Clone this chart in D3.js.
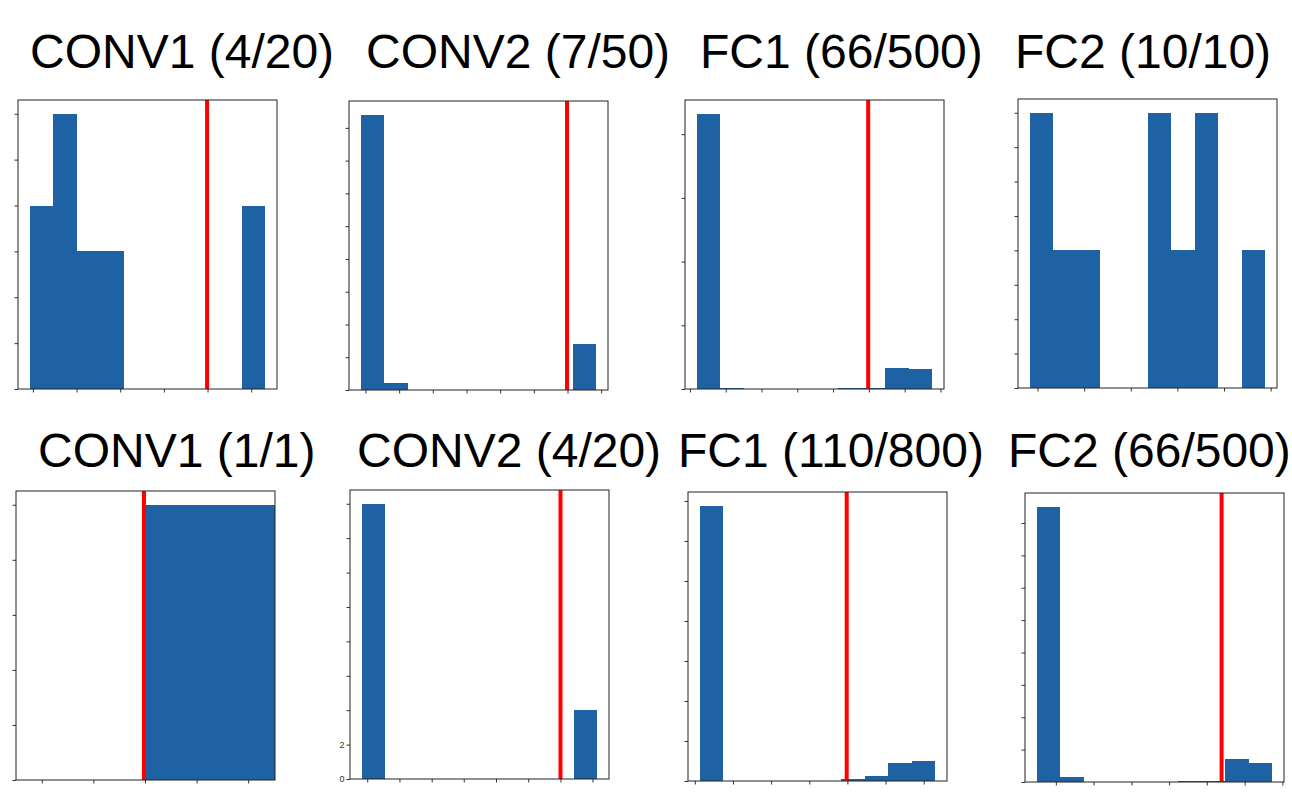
<!DOCTYPE html>
<html>
<head>
<meta charset="utf-8">
<script src="https://cdn.jsdelivr.net/npm/d3@7"></script>
<style>
  html, body { margin: 0; padding: 0; background: #fff; }
  svg { display: block; }
</style>
</head>
<body>
<script>
// ---------------- DATA ----------------
const titles = [
  "CONV1 (4/20)", "CONV2 (7/50)", "FC1 (66/500)", "FC2 (10/10)",
  "CONV1 (1/1)", "CONV2 (4/20)", "FC1 (110/800)", "FC2 (66/500)"
];

// histogram counts per panel (10 bins each, one wide bin for CONV1 (1/1))
const counts = [
  [4, 6, 3, 3, 0, 0, 0, 0, 0, 4],
  [42, 1, 0, 0, 0, 0, 0, 0, 0, 7],
  [432, 1, 0, 0, 0, 0, 1, 1, 33, 32],
  [2, 1, 1, 0, 0, 2, 1, 2, 0, 1],
  [1],
  [16, 0, 0, 0, 0, 0, 0, 0, 0, 4],
  [688, 0, 0, 0, 0, 0, 5, 13, 44, 50],
  [425, 8, 0, 0, 0, 0, 1, 1, 35, 30]
];

// value range covered by the bins (in bin-width units)
const binRanges = [
  [0, 10], [0, 10], [0, 10], [0, 10],
  [0, 2.52], [0, 10], [0, 10], [0, 10]
];

// x-axis limits
const xDomains = [
  [-0.5, 10.5], [-0.5, 10.5], [-0.5, 10.5], [-0.5, 10.5],
  [-2.5, 2.52], [-0.5, 10.5], [-0.5, 10.5], [-0.5, 10.5]
];

// pruning thresholds (red line); null = none drawn
const thresholds = [7.53, 8.76, 7.28, null, -0.02, 8.44, 6.24, 7.85];

// tick positions
const xTicks = [
  [0.13, 1.985, 3.84, 5.695, 7.55, 9.405],
  [0.20, 1.63, 3.06, 4.49, 5.92, 7.35, 8.78, 10.21],
  [-0.29, 1.23, 2.75, 4.27, 5.79, 7.31, 8.83, 10.35],
  [0.33, 2.31, 4.29, 6.27, 8.25, 10.23],
  [-2, -1, 0, 1, 2],
  [0.23, 1.60, 2.97, 4.33, 5.70, 7.07, 8.44, 9.80],
  [-0.21, 1.41, 3.03, 4.65, 6.27, 7.89, 9.51],
  [0.81, 2.41, 4.02, 5.62, 7.22, 8.83, 10.43]
];
const yTicks = [
  [0, 1, 2, 3, 4, 5, 6],
  [0, 5, 10, 15, 20, 25, 30, 35, 40],
  [0, 100, 200, 300, 400],
  [0, 0.25, 0.5, 0.75, 1, 1.25, 1.5, 1.75, 2],
  [0, 0.2, 0.4, 0.6, 0.8, 1],
  [0, 2, 4, 6, 8, 10, 12, 14, 16],
  [0, 100, 200, 300, 400, 500, 600, 700],
  [0, 50, 100, 150, 200, 250, 300, 350, 400]
];
// tick labels that are visible in the picture
const yTickLabels = [[], [], [], [], [], ["0", "2"], [], []];

// ---------------- LAYOUT ----------------
const W = 259, H = 289;
const layout = [
  { x: 18,   y: 100, tx: 30,   ty: 68 },
  { x: 349,  y: 101, tx: 366,  ty: 68 },
  { x: 685,  y: 100, tx: 700,  ty: 68 },
  { x: 1018, y: 99,  tx: 1015, ty: 68 },
  { x: 16,   y: 491, tx: 38,   ty: 467 },
  { x: 350,  y: 490, tx: 357,  ty: 467 },
  { x: 688,  y: 492, tx: 678,  ty: 467 },
  { x: 1025, y: 493, tx: 1008, ty: 467 }
];
const BLUE = "#1f62a4";
const RED = "#ff0000";

const svg = d3.select("body").append("svg")
  .attr("width", 1292).attr("height", 797)
  .style("font-family", "'Liberation Sans', Arial, Helvetica, sans-serif");

titles.forEach((title, i) => {
  const L = layout[i];
  const g = svg.append("g").attr("transform", `translate(${L.x},${L.y})`);
  const x = d3.scaleLinear().domain(xDomains[i]).range([0, W]);
  const y = d3.scaleLinear().domain([0, d3.max(counts[i]) * 1.05]).range([H, 0]);

  const [lo, hi] = binRanges[i];
  const bw = (hi - lo) / counts[i].length;

  g.selectAll("rect.bar").data(counts[i]).join("rect")
    .attr("class", "bar")
    .attr("x", (d, j) => x(lo + j * bw))
    .attr("width", (d, j) => x(lo + (j + 1) * bw) - x(lo + j * bw))
    .attr("y", d => y(d))
    .attr("height", d => Math.max(0, H - y(d)))
    .attr("fill", BLUE)
    .attr("shape-rendering", "crispEdges");

  if (thresholds[i] !== null) {
    g.append("line")
      .attr("x1", x(thresholds[i])).attr("x2", x(thresholds[i]))
      .attr("y1", 0).attr("y2", H)
      .attr("stroke", RED).attr("stroke-width", 4);
  }

  const labels = yTickLabels[i];
  const yAxis = d3.axisLeft(y).tickValues(yTicks[i]).tickSize(3.5).tickPadding(2)
    .tickFormat(d => labels.includes(String(d)) ? String(d) : "");
  const xAxis = d3.axisBottom(x).tickValues(xTicks[i]).tickSize(3.5).tickFormat("");

  const ya = g.append("g").call(yAxis);
  ya.select(".domain").remove();
  ya.selectAll("line").attr("stroke", "#333");
  ya.selectAll("text").attr("font-size", 9).attr("fill", "#333");

  const xa = g.append("g").attr("transform", `translate(0,${H})`).call(xAxis);
  xa.select(".domain").remove();
  xa.selectAll("line").attr("stroke", "#333");

  g.append("rect")
    .attr("x", 0).attr("y", 0).attr("width", W).attr("height", H)
    .attr("fill", "none").attr("stroke", "#222").attr("stroke-width", 1);

  svg.append("text")
    .attr("x", L.tx).attr("y", L.ty)
    .attr("font-size", 48)
    .attr("fill", "#000")
    .text(title);
});
</script>
</body>
</html>
